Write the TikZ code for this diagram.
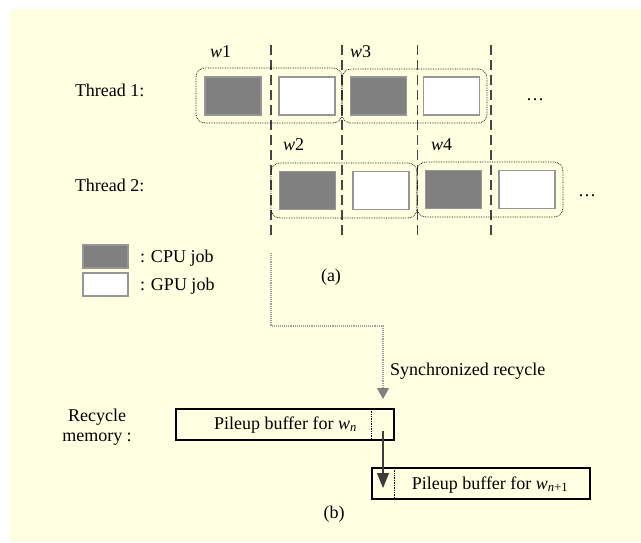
\documentclass[tikz,border=0pt]{standalone}
\usepackage{fontspec}
\setmainfont{Liberation Serif}
\usetikzlibrary{arrows.meta}
\definecolor{bgyellow}{RGB}{255,255,226}
\definecolor{cpugray}{RGB}{128,128,128}
\definecolor{edgegray}{RGB}{150,150,150}
\definecolor{dashgray}{RGB}{70,70,70}
\definecolor{syncgray}{RGB}{160,160,160}
\definecolor{tipgray}{RGB}{128,128,128}
\definecolor{arrowdark}{RGB}{60,60,60}
\begin{document}
\begin{tikzpicture}[x=1pt,y=-1pt,
  every node/.style={font=\fontsize{18}{21}\selectfont, inner sep=0pt, outer sep=0pt},
  cpujob/.style={draw=edgegray, fill=cpugray, line width=1.2pt, minimum width=56pt, minimum height=38pt},
  gpujob/.style={draw=edgegray, fill=white, line width=1.2pt, minimum width=56pt, minimum height=38pt},
  grpbox/.style={draw=black, densely dotted, line width=0.7pt, rounded corners=9pt, minimum width=146pt, minimum height=55pt},
  sepline/.style={draw=dashgray, line width=1.3pt, dash pattern=on 10pt off 5pt},
  bufbox/.style={draw=black, line width=1.3pt, minimum width=218pt, minimum height=31pt},
  txt/.style={anchor=base west},
  txtc/.style={anchor=base}
]
\useasboundingbox (0,0) rectangle (641,542);
\fill[bgyellow] (10,9) rectangle (641,542);

% separator lines
\foreach \i/\x in {1/271,2/342,3/417.5,4/491} {
  \coordinate (st\i) at (\x,45);
  \coordinate (sb\i) at (\x,238);
  \draw[sepline] (st\i) -- (sb\i);
}

% labels
\node[txt] (t1) at (75,96) {Thread 1:};
\node[txt] (t2) at (75,191) {Thread 2:};
\node[txt] (w1) at (210,57) {\textit{w}1};
\node[txt] (w3) at (350,57) {\textit{w}3};
\node[txt] (w2) at (283,150) {\textit{w}2};
\node[txt] (w4) at (431,150) {\textit{w}4};

% thread 1 jobs
\node[cpujob] (c1) at (233,96) {};
\node[gpujob] (g1) at (307,96) {};
\node[cpujob] (c2) at (378.5,96) {};
\node[gpujob] (g2) at (451.5,96) {};
\node[grpbox] (grp1) at (269,95.5) {};
\node[grpbox, minimum width=145pt, minimum height=54pt] (grp2) at (414.5,96) {};
\node[txtc] (dots1) at (535,100) {\dots};

% thread 2 jobs
\node[cpujob] (c3) at (307.5,190.5) {};
\node[gpujob] (g3) at (381,190.5) {};
\node[cpujob] (c4) at (453.5,189.5) {};
\node[gpujob] (g4) at (527,189.5) {};
\node[grpbox] (grp3) at (344,190.5) {};
\node[grpbox] (grp4) at (490,189.5) {};
\node[txtc] (dots2) at (587,196) {\dots};

% legend
\node[cpujob, minimum width=45pt, minimum height=23pt] (lc) at (105.5,256.5) {};
\node[gpujob, minimum width=45pt, minimum height=23pt] (lg) at (105.5,284.5) {};
\node[txt] (lct) at (140,262) {: CPU job};
\node[txt] (lgt) at (140,290) {: GPU job};
\node[txtc] (la) at (331,281) {(a)};

% buffers
\node[bufbox] (buf1) at (285,424.5) {};
\node[bufbox] (buf2) at (481,483.5) {};
\draw[black, densely dotted, line width=0.7pt] (buf1.north -| 371,0) -- (buf1.south -| 371,0);
\draw[black, densely dotted, line width=0.7pt] (buf2.north -| 394,0) -- (buf2.south -| 394,0);
\node[txtc] (b1t) at (285.5,429) {Pileup buffer for \textit{w}\textsubscript{\textit{n}}};
\node[txtc] (b2t) at (490,489) {Pileup buffer for \textit{w}\textsubscript{\textit{n}+1}};
\node[txtc, align=center, anchor=center] (rm) at (97,427) {Recycle\\[-1pt]memory :};
\node[txtc] (lb) at (334,518) {(b)};

% synchronized recycle connector
\coordinate (syncstart) at (271,253);
\coordinate (syncbend) at (383,326);
\draw[syncgray, densely dotted, line width=1.1pt, -{Triangle[width=12pt,length=11pt,color=tipgray,fill=tipgray]}, shorten >=10pt]
  (syncstart) |- (syncbend) -- (syncbend |- buf1.north);
\node[txt] (sync) at (390,375) {Synchronized recycle};

% recycle arrow
\coordinate (rstart) at (383,431);
\coordinate (rend) at (383,488);
\draw[arrowdark, line width=1.3pt, -{Triangle[width=12pt,length=15pt]}] (rstart) -- (rend);
\end{tikzpicture}
\end{document}
